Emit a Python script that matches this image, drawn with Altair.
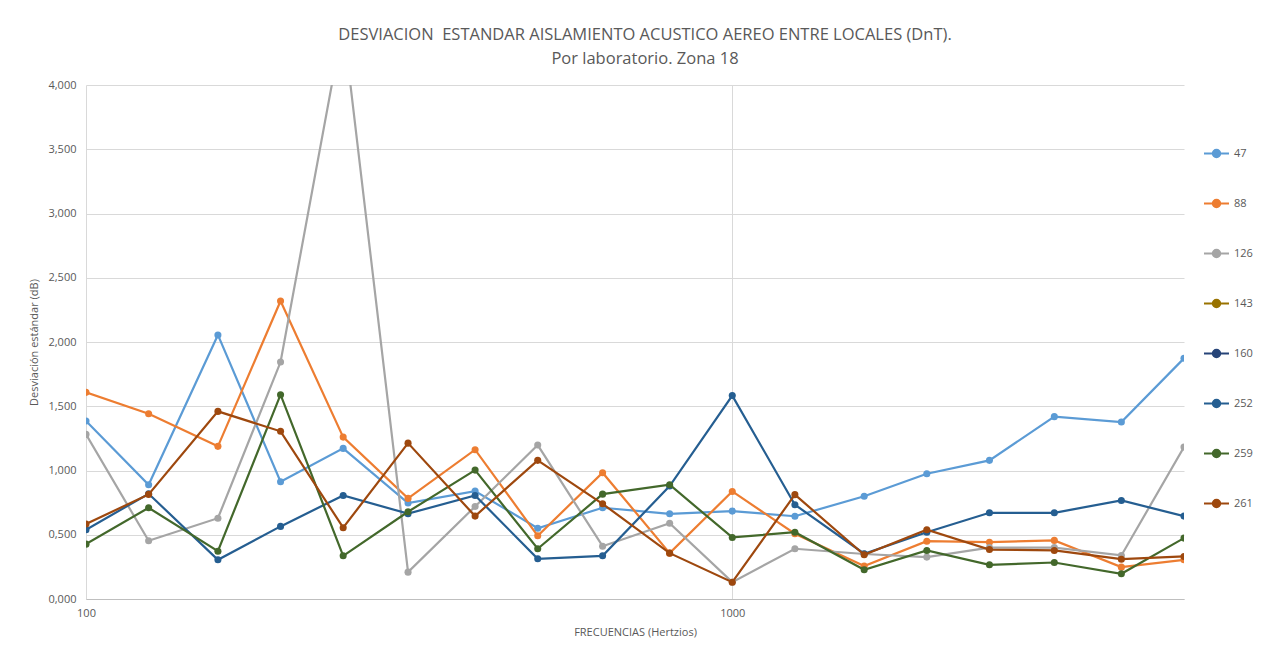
import altair as alt
import pandas as pd

freqs = [100, 125, 160, 200, 250, 315, 400, 500, 630, 800, 1000, 1250, 1600, 2000, 2500, 3150, 4000, 5000]
series_names = ["47", "88", "126", "143", "160", "252", "259", "261"]
series_colors = ["#5B9BD5", "#ED7D31", "#A5A5A5", "#997300", "#264478", "#255E91", "#43682B", "#9E480E"]

s47 = [1.385, 0.889, 2.055, 0.913, 1.172, 0.747, 0.840, 0.551, 0.710, 0.663, 0.684, 0.644, 0.800, 0.975, 1.079, 1.419, 1.377, 1.873]
s88 = [1.608, 1.442, 1.188, 2.319, 1.260, 0.783, 1.162, 0.492, 0.983, 0.357, 0.837, 0.508, 0.256, 0.450, 0.442, 0.456, 0.248, 0.305]
s126 = [1.281, 0.453, 0.629, 1.844, 4.480, 0.209, 0.720, 1.198, 0.411, 0.590, 0.131, 0.391, 0.350, 0.326, 0.400, 0.400, 0.339, 1.182]
s143 = []
s160 = []
s252 = [0.539, 0.819, 0.305, 0.565, 0.806, 0.664, 0.806, 0.313, 0.336, 0.879, 1.583, 0.734, 0.352, 0.520, 0.671, 0.671, 0.767, 0.645]
s259 = [0.427, 0.710, 0.372, 1.590, 0.336, 0.679, 1.003, 0.391, 0.816, 0.889, 0.479, 0.520, 0.227, 0.378, 0.266, 0.284, 0.196, 0.474]
s261 = [0.583, 0.814, 1.460, 1.305, 0.555, 1.213, 0.645, 1.079, 0.741, 0.357, 0.131, 0.812, 0.344, 0.539, 0.385, 0.378, 0.310, 0.331]

all_series = [s47, s88, s126, s143, s160, s252, s259, s261]

rows = []
for name, vals in zip(series_names, all_series):
    for f, v in zip(freqs, vals):
        rows.append({"freq": f, "serie": name, "valor": v})
df = pd.DataFrame(rows)

TXT = "#595959"
FONT = "Open Sans"

color_scale = alt.Scale(domain=series_names, range=series_colors)

legend_path = ("M-1,0L1,0 "
               "M-0.3,0a0.3,0.3 0 1,0 0.6,0a0.3,0.3 0 1,0 -0.6,0 "
               "M-0.18,0a0.18,0.18 0 1,0 0.36,0a0.18,0.18 0 1,0 -0.36,0 "
               "M-0.07,0a0.07,0.07 0 1,0 0.14,0a0.07,0.07 0 1,0 -0.14,0")

x_enc = alt.X("freq:Q",
              scale=alt.Scale(type="log", domain=[100, 5000], nice=False),
              axis=alt.Axis(values=[100, 1000], format="d", title="FRECUENCIAS (Hertzios)",
                            grid=True, gridColor="#D9D9D9", ticks=False, labelFlush=False,
                            domainColor="#BFBFBF", labelPadding=8, titlePadding=8))
y_enc = alt.Y("valor:Q",
              scale=alt.Scale(domain=[0, 4], nice=False),
              axis=alt.Axis(values=[0, 0.5, 1, 1.5, 2, 2.5, 3, 3.5, 4],
                            labelExpr="replace(format(datum.value, '.3f'), '.', ',')",
                            title="Desviación estándar (dB)", grid=True, gridColor="#D9D9D9",
                            ticks=False, domain=False, labelPadding=10, titlePadding=8))
c_enc = alt.Color("serie:N", scale=color_scale, sort=series_names,
                  legend=alt.Legend(title=None, symbolType=legend_path, symbolSize=625,
                                    symbolStrokeWidth=2, rowPadding=28, labelFontSize=11,
                                    labelColor=TXT, labelFont=FONT, orient="none",
                                    legendX=1117, legendY=55, padding=0, labelOffset=4))

layers = []
for name in series_names:
    sub = df[df["serie"] == name]
    if len(sub) == 0:
        sub = pd.DataFrame({"freq": [None], "serie": [name], "valor": [None]})
    base = alt.Chart(sub).encode(x=x_enc, y=y_enc, color=c_enc)
    layers.append(base.mark_line(strokeWidth=2.2, clip=True))
    layers.append(base.mark_circle(size=50, opacity=1, clip=True))

chart = alt.layer(*layers).properties(
    width=1098, height=514,
    title=alt.TitleParams(
        text="DESVIACION\u00a0 ESTANDAR AISLAMIENTO ACUSTICO AEREO ENTRE LOCALES (DnT).",
        subtitle="Por laboratorio. Zona 18",
        anchor="middle", dx=10, offset=12, fontSize=16.5, subtitleFontSize=16.5,
        font=FONT, subtitleFont=FONT, color=TXT, subtitleColor=TXT,
        fontWeight="normal", subtitlePadding=7),
    padding={"left": 78, "top": 77, "right": 88, "bottom": 40},
    autosize=alt.AutoSizeParams(type="none"),
).configure_view(stroke=None).configure_axis(
    labelColor=TXT, titleColor=TXT, labelFont=FONT, titleFont=FONT,
    labelFontSize=11, titleFontSize=11, titleFontWeight="normal"
)

chart.save("out.html", embed_options={"renderer": "svg", "actions": False})
